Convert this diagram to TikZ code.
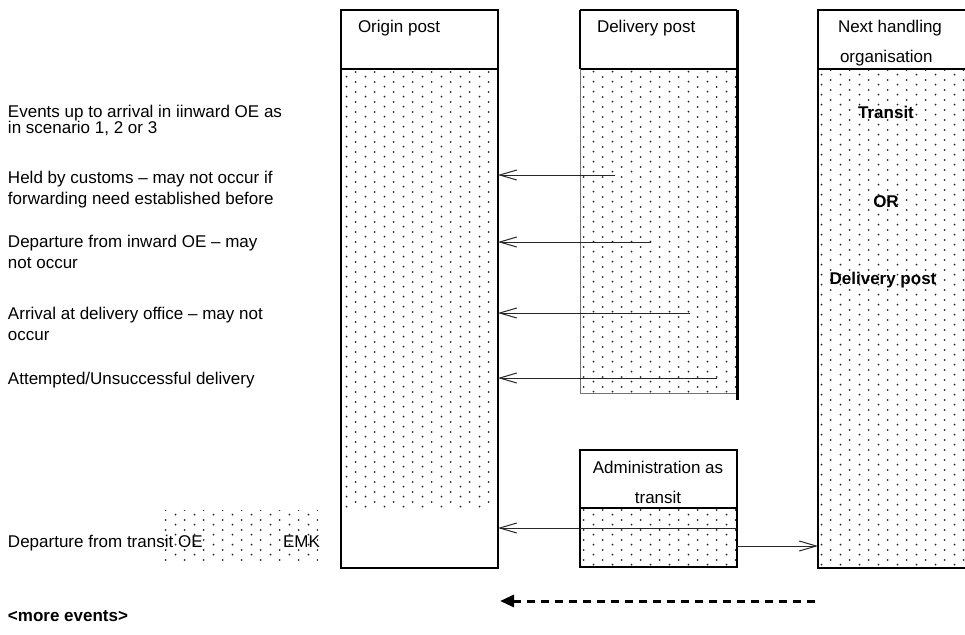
\documentclass[tikz,border=0pt]{standalone}
\usepackage{fontspec}
\setmainfont{Liberation Sans}
\usetikzlibrary{patterns,arrows.meta}
\pgfdeclarepatternformonly{sdots}{\pgfqpoint{0pt}{0pt}}{\pgfqpoint{19pt}{9.6pt}}{\pgfqpoint{19pt}{9.6pt}}{%
  \pgfpathcircle{\pgfqpoint{4.75pt}{2.4pt}}{1.05pt}%
  \pgfpathcircle{\pgfqpoint{14.25pt}{7.2pt}}{1.05pt}%
  \pgfusepath{fill}}
\begin{document}
\begin{tikzpicture}[x=1pt,y=-1pt,
  every node/.style={inner sep=0pt,outer sep=0pt},
  lbl/.style={font=\fontsize{17}{20}\selectfont,anchor=base west},
  blbl/.style={font=\fontsize{17}{20}\selectfont\bfseries,anchor=base},
  clbl/.style={font=\fontsize{17}{20}\selectfont,anchor=base},
  dotfill/.style={pattern=sdots,pattern color=black!85},
  frame/.style={line width=2pt,black},
  thinframe/.style={line width=1pt,black!55},
  evarrow/.style={line width=1pt,black!85,-{Straight Barb[length=17pt,width=10pt]}},
  fwdarrow/.style={line width=3pt,black,dash pattern=on 8pt off 6pt,-{Triangle[length=14pt,width=12pt]}}]
\useasboundingbox (0,0) rectangle (965,634);
\fill[white] (0,0) rectangle (965,634);

% boxes (geometry holders)
\node[minimum width=157pt,minimum height=558pt] (origin) at (419.5,289) {};
\node[minimum width=157pt,minimum height=383pt] (deliv) at (658.5,201.5) {};
\node[minimum width=160pt,minimum height=558pt] (nexth) at (898,289) {};
\node[minimum width=157pt,minimum height=117pt] (admin) at (658.5,508.5) {};

% dotted fills
\fill[dotfill] (341,69) rectangle (498,510);
\fill[dotfill] (580,69) rectangle (737,393);
\fill[dotfill] (818,69) rectangle (965,568);
\fill[dotfill] (580,508) rectangle (737,567);
\fill[dotfill] (163,510) rectangle (318,560);

% origin post frame
\draw[frame] (origin.north west) rectangle (origin.south east);
\draw[frame] (341,69) -- (498,69);
% delivery post frame
\draw[frame] (deliv.north west) -- (deliv.north east);
\draw[frame] (580,10) -- (580,69);
\draw[frame] (580,69) -- (737,69);
\draw[thinframe] (580,69) -- (deliv.south west) -- (deliv.south east);
\draw[line width=3pt] (deliv.north east) -- ++(0,390);
% next handling frame
\draw[frame] (nexth.north east) -- (nexth.north west) -- (nexth.south west) -- (nexth.south east);
\draw[frame] (818,69) -- (965,69);
% administration frame
\draw[frame] (admin.north west) rectangle (admin.south east);
\draw[frame] (580,508) -- (737,508);

% header texts
\node[lbl] (t-origin) at (358,33) {Origin post};
\node[lbl] (t-deliv) at (597,33) {Delivery post};
\node[lbl] (t-next1) at (838,33) {Next handling};
\node[lbl] (t-next2) at (840,63) {organisation};
\node[clbl] (t-adm1) at (658,473) {Administration as};
\node[clbl] (t-adm2) at (658,503) {transit};
\node[blbl] (t-transit) at (886,118) {Transit};
\node[blbl] (t-or) at (886,207) {OR};
\node[blbl] (t-dp) at (883,284) {Delivery post};

% left labels
\node[lbl] (l1a) at (8,117) {Events up to arrival in iinward OE as};
\node[lbl] (l1b) at (8,133) {in scenario 1, 2 or 3};
\node[lbl] (l2a) at (8,183) {Held by customs -- may not occur if};
\node[lbl] (l2b) at (8,204) {forwarding need established before};
\node[lbl] (l3a) at (8,247) {Departure from inward OE -- may};
\node[lbl] (l3b) at (8,268) {not occur};
\node[lbl] (l4a) at (8,319) {Arrival at delivery office -- may not};
\node[lbl] (l4b) at (8,340) {occur};
\node[lbl] (l5) at (8,384) {Attempted/Unsuccessful delivery};
\node[lbl] (l6) at (8,547) {Departure from transit OE};
\node[lbl] (l6b) at (283,547) {EMK};
\node[lbl,font=\fontsize{17}{20}\selectfont\bfseries] (l7) at (8,621) {<more events>};

% arrows
\coordinate (s1) at (615,175);
\coordinate (s2) at (651,242);
\coordinate (s3) at (690,313);
\coordinate (s4) at (717,378);
\coordinate (s5) at (737,528);
\coordinate (s6) at (737,546);
\coordinate (s7) at (815,601);
\coordinate (e7) at (500,601);
\draw[evarrow] (s1) -- (s1 -| origin.east);
\draw[evarrow] (s2) -- (s2 -| origin.east);
\draw[evarrow] (s3) -- (s3 -| origin.east);
\draw[evarrow] (s4) -- (s4 -| origin.east);
\draw[evarrow] (s5) -- (s5 -| origin.east);
\draw[evarrow] (s6) -- (s6 -| nexth.west);
\draw[fwdarrow] (s7) -- (e7);
\end{tikzpicture}
\end{document}
